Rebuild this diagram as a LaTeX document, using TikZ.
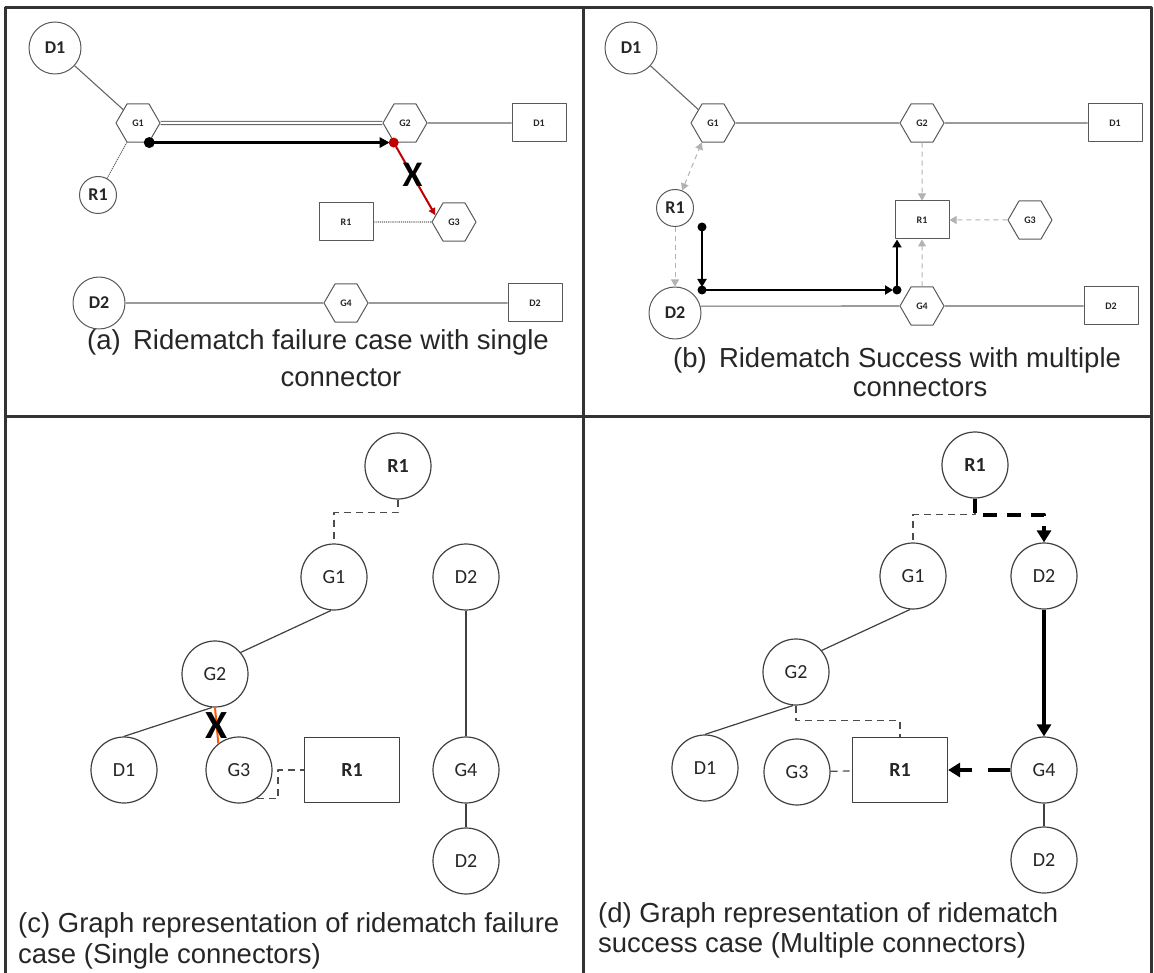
\documentclass[tikz,border=0pt]{standalone}
\usepackage{fontspec}
\setmainfont{Liberation Sans}
\newfontfamily\calib{Carlito}
\usetikzlibrary{shapes.geometric,arrows.meta}

\tikzset{
  frame/.style={draw=black!80,line width=3pt},
  road/.style={draw=black!60,line width=1.1pt},
  tie/.style={draw=black!75,line width=1.2pt},
  walk/.style={draw=black!70,line width=1.2pt,dash pattern=on 7pt off 5pt},
  link/.style={draw=black!30,line width=1pt,dash pattern=on 5pt off 4pt,>={Triangle[length=7pt,width=8pt]}},
  ride/.style={line width=2.6pt,-{Triangle[length=10pt,width=10pt]},shorten >=4pt},
  hop/.style={line width=2pt,-{Triangle[length=8pt,width=9pt]}},
  route/.style={line width=4pt,-{Triangle[length=12pt,width=14pt]}},
  dcirc/.style={circle,draw=black!65,line width=1pt,minimum size=52pt,inner sep=0pt,text=black!85,
    font=\calib\bfseries\fontsize{18}{18}\selectfont},
  rcirc/.style={dcirc,minimum size=37pt},
  hexa/.style={regular polygon,regular polygon sides=6,draw=black!65,line width=1pt,minimum size=44pt,
    inner sep=0pt,text=black!85,font=\calib\bfseries\fontsize{10}{10}\selectfont},
  dest/.style={rectangle,draw=black!65,line width=1pt,minimum width=54pt,minimum height=38pt,inner sep=0pt,
    text=black!85,font=\calib\bfseries\fontsize{10}{10}\selectfont},
  vert/.style={circle,draw=black!75,line width=1.2pt,minimum size=66pt,inner sep=0pt,text=black!85,
    font=\calib\fontsize{20}{20}\selectfont},
  vbox/.style={rectangle,draw=black!75,line width=1.2pt,minimum width=95pt,minimum height=65pt,text=black!85,
    font=\calib\bfseries\fontsize{20}{20}\selectfont},
  thick label/.style={font=\calib\bfseries\fontsize{20}{20}\selectfont},
  cross/.style={inner sep=0pt,text=black,font=\calib\bfseries\fontsize{36}{36}\selectfont},
  captext/.style={anchor=base,inner sep=0pt,text=black!85,font=\fontsize{27.5}{27.5}\selectfont},
}

\begin{document}
\begin{tikzpicture}[x=1pt,y=-1pt,line join=round]
\useasboundingbox (0,0) rectangle (1154,973);
% panel frame
\draw[frame] (5,8) rectangle (1151,976);
\draw[frame] (583,8) -- (583,976);
\draw[frame] (5,417) -- (1151,417);

% (a) single connector
\node[dcirc] (aD1) at (55,48) {D1};
\node[hexa] (aG1) at (138,123) {G1};
\node[hexa] (aG2) at (405,123) {G2};
\node[dest] (aD1d) at (539,123) {D1};
\node[rcirc] (aR1) at (98,195) {R1};
\node[dest] (aR1d) at (346,222) {R1};
\node[hexa] (aG3) at (454,222) {G3};
\node[dcirc] (aD2) at (99,303) {D2};
\node[hexa] (aG4) at (346,303) {G4};
\node[dest] (aD2d) at (535,303) {D2};
\draw[road] (aD1) -- (aG1);
\draw[road,double=white,double distance=2pt] (aG1) -- (aG2);
\draw[road] (aG2) -- (aD1d);
\draw[road,densely dotted] (aR1) -- (aG1.240);
\draw[road,densely dotted] (aR1d) -- (aG3);
\draw[road] (aD2) -- (aG4) -- (aD2d);
\draw[ride] (aG1.300) -- (aG2.240);
\fill (aG1.300) circle (5.5pt);
\draw[red!75!black,line width=2pt,-{Triangle[length=7pt,width=7pt]}] (aG2.240) -- (aG3.160)
  node[cross,pos=.45] (aX) {X};
\fill[red!75!black] (aG2.240) circle (5pt);
\node[captext,anchor=base west] (aTag) at (87,350) {(a)};
\node[captext] (aCap) at (341,350) {Ridematch failure case with single};
\node[captext] (aCapb) at (341,387) {connector};

% (b) multiple connectors
\node[dcirc] (bD1) at (631,48) {D1};
\node[hexa] (bG1) at (713,123) {G1};
\node[hexa] (bG2) at (922,123) {G2};
\node[dest] (bD1d) at (1115,123) {D1};
\node[rcirc] (bR1) at (675,208) {R1};
\node[dest] (bR1d) at (922,220) {R1};
\node[hexa] (bG3) at (1030,220) {G3};
\node[dcirc] (bD2) at (675,313) {D2};
\node[hexa] (bG4) at (922,306) {G4};
\node[dest] (bD2d) at (1111,306) {D2};
\draw[road] (bD1) -- (bG1) -- (bG2) -- (bD1d);
\draw[road] (bD2.15) -- (bG4) -- (bD2d);
\draw[link,<->] (bR1) -- (bG1.240);
\draw[link,->] (bR1) -- (bD2);
\foreach \from in {bG2,bG3,bG4} \draw[link,->] (\from) -- (bR1d);
\coordinate (bP1) at (702,227);
\coordinate (bP2) at (702,290);
\coordinate (bP3) at (897,290);
\draw[hop,shorten >=3pt] (bP1) -- (bP2);
\draw[hop,shorten >=4pt] (bP2) -- (bP3);
\draw[hop] (bP3) -- (bP3 |- bR1d.south);
\foreach \p in {bP1,bP2,bP3} \fill (\p) circle (4.5pt);
\node[captext,anchor=base west] (bTag) at (673,368) {(b)};
\node[captext] (bCap) at (920,368) {Ridematch Success with multiple};
\node[captext] (bCapb) at (920,397) {connectors};

% (c) graph, failure
\node[vert,thick label] (cR1) at (398,466) {R1};
\node[vert] (cG1) at (334,577) {G1};
\node[vert] (cD2) at (466,577) {D2};
\node[vert] (cG2) at (215,674) {G2};
\node[vert] (cD1) at (124,770) {D1};
\node[vert] (cG3) at (239,770) {G3};
\node[vbox] (cR1d) at (352,770) {R1};
\node[vert] (cG4) at (466,770) {G4};
\node[vert] (cD2b) at (466,861) {D2};
\draw[walk] (cR1.south) -- ++(0,13) -| (cG1.north);
\draw[tie] (cG1.265) -- (cG2.40);
\draw[tie] (cG2.265) -- (cD1.north);
\draw[tie] (cD2) -- (cG4) -- (cD2b);
\draw[walk] (cG3.302) -| ([xshift=-26pt]cR1d.west) -- (cR1d.west);
\draw[draw=orange!70!red,line width=2pt] (cG2.south) -- (cG3.128)
  node[cross,font=\calib\bfseries\fontsize{40}{40}\selectfont,pos=.5] (cX) {X};
\node[captext,anchor=base west] (cCap) at (18,932) {(c) Graph representation of ridematch failure};
\node[captext,anchor=base west] (cCapb) at (18,963) {case (Single connectors)};

% (d) graph, success
\node[vert,thick label] (dR1) at (975,465) {R1};
\node[vert] (dG1) at (913,576) {G1};
\node[vert] (dD2) at (1044,576) {D2};
\node[vert] (dG2) at (796,672) {G2};
\node[vert] (dD1) at (705,768) {D1};
\node[vert] (dG3) at (797,772) {G3};
\node[vbox] (dR1d) at (900,770) {R1};
\node[vert] (dG4) at (1044,770) {G4};
\node[vert] (dD2b) at (1044,860) {D2};
\draw[walk] (dR1.south) -- ++(0,16) -| (dG1.north);
\draw[tie] (dG1.265) -- (dG2.40);
\draw[tie] (dG2.265) -- (dD1.north);
\draw[walk] (dG2.south) -- ++(0,15) -| (dR1d.north);
\draw[walk] (dG3) -- (dR1d);
\draw[tie] (dG4) -- (dD2b);
\draw[route,dash pattern=on 14pt off 10pt] (dR1.south) -- ++(0,16) -| (dD2.north);
\draw[route] (dD2) -- (dG4);
\draw[route,dash pattern=on 22pt off 16pt] (dG4) -- (dR1d);
\node[captext,anchor=base west] (dCap) at (598,922) {(d) Graph representation of ridematch};
\node[captext,anchor=base west] (dCapb) at (598,952) {success case (Multiple connectors)};
\end{tikzpicture}
\end{document}
